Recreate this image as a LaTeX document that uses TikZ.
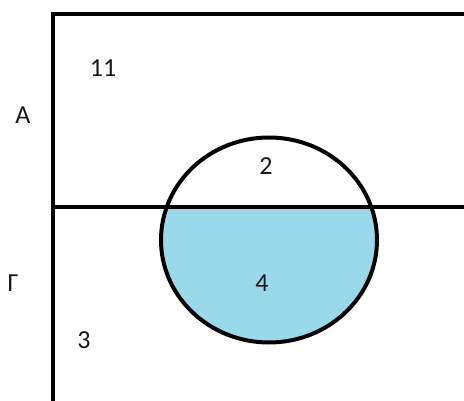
\documentclass[tikz,border=0pt]{standalone}
\usepackage{fontspec}
\setmainfont{Carlito}
\definecolor{fillblue}{RGB}{153,217,234}
\tikzset{
  frame/.style={line width=4pt, draw=black},
  lbl/.style={font=\fontsize{26}{30}\selectfont, text=black!90, inner sep=0pt}
}
\begin{document}
\begin{tikzpicture}[x=1pt,y=-1pt]
\useasboundingbox (0,0) rectangle (464,401);
\fill[white] (0,0) rectangle (464,401);
% shaded lower part of circle
\begin{scope}
  \clip (40,207) rectangle (464,401);
  \fill[fillblue] (269,240) ellipse [x radius=108, y radius=102.5];
\end{scope}
\draw[frame] (269,240) ellipse [x radius=108, y radius=102.5];
% frame lines
\draw[frame] (53,401) -- (53,14) -- (464,14);
\draw[frame] (53,207) -- (464,207);
% labels
\node[lbl] (n11) at (103,68) {11};
\node[lbl] (nA) at (23,115) {A};
\node[lbl] (n2) at (266,166) {2};
\node[lbl] (nG) at (13,283) {Γ};
\node[lbl] (n4) at (262,283) {4};
\node[lbl] (n3) at (84,340) {3};
\end{tikzpicture}
\end{document}
